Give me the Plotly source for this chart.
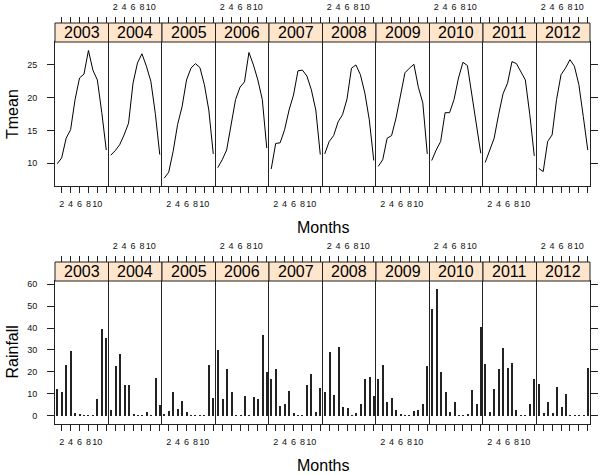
import plotly.graph_objects as go

years = ["2003", "2004", "2005", "2006", "2007", "2008", "2009", "2010", "2011", "2012"]
months = [1, 2, 3, 4, 5, 6, 7, 8, 9, 10, 11, 12]

tmean = {
    "2003": [9.9, 10.8, 13.8, 15.1, 19.7, 23.0, 23.6, 27.2, 24.2, 22.7, 17.7, 12.0],
    "2004": [11.2, 11.9, 12.8, 14.3, 16.1, 22.2, 25.3, 26.7, 24.8, 22.5, 17.6, 11.3],
    "2005": [7.7, 8.6, 11.8, 15.9, 18.6, 22.7, 24.5, 25.2, 24.6, 22.0, 18.1, 11.4],
    "2006": [9.3, 10.5, 12.0, 15.6, 19.7, 21.6, 22.4, 26.9, 25.0, 22.7, 19.7, 12.3],
    "2007": [9.1, 13.0, 13.1, 15.1, 18.1, 20.4, 24.1, 24.2, 23.3, 21.2, 18.1, 11.3],
    "2008": [11.4, 13.3, 14.2, 16.3, 17.4, 19.8, 24.5, 25.0, 23.5, 20.7, 16.6, 10.4],
    "2009": [9.5, 10.5, 13.8, 14.2, 16.9, 20.2, 23.8, 24.5, 25.1, 21.6, 19.2, 11.4],
    "2010": [10.4, 12.0, 13.3, 17.7, 17.7, 19.7, 23.0, 25.4, 24.9, 20.3, 15.8, 11.5],
    "2011": [10.1, 12.0, 13.8, 17.4, 20.6, 22.2, 25.5, 25.2, 24.0, 22.7, 17.4, 11.1],
    "2012": [9.2, 8.7, 13.3, 14.3, 19.7, 23.5, 24.5, 25.8, 24.8, 22.0, 17.1, 12.0],
}

rainfall = {
    "2003": [12.0, 10.9, 23.1, 29.6, 1.4, 0.8, 0.3, 0.3, 0.3, 7.4, 39.8, 35.7],
    "2004": [2.6, 22.6, 28.1, 14.0, 14.2, 0.5, 0.3, 0.3, 1.6, 0.3, 17.0, 4.9],
    "2005": [0.6, 2.3, 10.6, 3.0, 6.7, 1.5, 0.3, 0.3, 0.3, 0.3, 23.1, 8.2],
    "2006": [29.9, 7.6, 21.3, 10.9, 0.3, 0.3, 9.0, 0.2, 8.7, 7.4, 36.8, 20.1],
    "2007": [16.6, 21.1, 4.4, 5.3, 11.4, 1.4, 0.3, 0.3, 14.0, 19.0, 1.8, 12.5],
    "2008": [10.9, 29.2, 9.4, 31.5, 4.1, 3.6, 0.3, 1.4, 5.3, 16.6, 17.8, 9.1],
    "2009": [16.6, 23.1, 6.4, 8.2, 2.6, 0.8, 0.3, 0.3, 2.1, 2.6, 5.3, 22.6],
    "2010": [48.9, 57.8, 20.1, 10.6, 1.5, 6.4, 0.3, 0.3, 0.8, 11.7, 5.3, 40.3],
    "2011": [23.4, 1.8, 12.3, 21.1, 31.0, 22.0, 23.9, 2.6, 0.3, 0.3, 5.3, 16.7],
    "2012": [14.3, 1.1, 6.2, 1.1, 12.9, 3.8, 10.0, 0.3, 0.3, 0.3, 0.3, 21.6],
}

xtick_vals = [2, 4, 6, 8, 10, 12]
xtick_text = ["2", "4", "6", "8", "10", ""]
tmean_ticks = [10, 15, 20, 25]
rain_ticks = [0, 10, 20, 30, 40, 50, 60]

W, H = 600, 475
FONT = "Liberation Sans, Arial, sans-serif"
LEFT, PW = 55, 53.5
XR = [0.5, 12.5]

rows = [
    dict(name="Tmean", data=tmean, strip_top=23, top=42, bottom=186, yr=[6.5, 28.5],
         yticks=tmean_ticks, kind="line", months_y=227),
    dict(name="Rainfall", data=rainfall, strip_top=262, top=281, bottom=424, yr=[-3.8, 61.5],
         yticks=rain_ticks, kind="bar", months_y=465),
]

fig = go.Figure()
layout = {}
shapes = []
annotations = []

def py(p):
    return 1 - p / H

def px(p):
    return p / W

tickfont = dict(family=FONT, size=9, color="#111")
LC = "#222"

n_main = 0
for r, row in enumerate(rows):
    for i, yr in enumerate(years):
        n_main += 1
        k = n_main
        ov = 20 + k
        x0 = px(LEFT + i * PW)
        x1 = px(LEFT + (i + 1) * PW)
        xa = "xaxis" if k == 1 else f"xaxis{k}"
        ya = "yaxis" if k == 1 else f"yaxis{k}"
        xref = "x" if k == 1 else f"x{k}"
        yref = "y" if k == 1 else f"y{k}"
        bottom_labels = (i % 2 == 0)
        layout[xa] = dict(
            domain=[x0, x1], range=XR, anchor=yref,
            showline=True, mirror=True, linecolor=LC, linewidth=1,
            ticks="outside", ticklen=6, tickwidth=1, tickcolor=LC,
            tickvals=xtick_vals, ticktext=xtick_text, tickangle=0,
            showticklabels=bottom_labels, showgrid=False, zeroline=False,
            tickfont=tickfont, automargin=False, fixedrange=True,
            ticklabelstandoff=3,
        )
        layout[f"xaxis{ov}"] = dict(
            overlaying=xref, anchor="free", position=py(row["strip_top"]),
            side="top", range=XR, showline=False,
            ticks="outside", ticklen=6, tickwidth=1, tickcolor=LC,
            tickvals=xtick_vals, ticktext=xtick_text, tickangle=0,
            showticklabels=not bottom_labels, showgrid=False, zeroline=False,
            tickfont=tickfont, automargin=False, fixedrange=True,
            ticklabelstandoff=3,
        )
        yd = dict(
            domain=[py(row["bottom"]), py(row["top"])], range=row["yr"], anchor=xref,
            showline=True, mirror=(i == len(years) - 1), linecolor=LC, linewidth=1,
            showgrid=False, zeroline=False, tickvals=row["yticks"],
            tickfont=tickfont, automargin=False, fixedrange=True,
        )
        if i == 0:
            yd.update(ticks="outside", ticklen=7, tickcolor=LC, showticklabels=True,
                      side="left", ticklabelstandoff=8)
        elif i == len(years) - 1:
            yd.update(ticks="outside", ticklen=7, tickcolor=LC, showticklabels=False, side="right")
        else:
            yd.update(ticks="", showticklabels=False)
        layout[ya] = yd

        vals = row["data"][yr]
        if row["kind"] == "line":
            fig.add_trace(go.Scatter(x=months, y=vals, mode="lines",
                                     line=dict(color="black", width=1),
                                     xaxis=xref, yaxis=yref, showlegend=False,
                                     hoverinfo="skip"))
        else:
            fig.add_trace(go.Bar(x=months, y=vals, width=0.22,
                                 marker=dict(color="#222", line=dict(width=0)),
                                 xaxis=xref, yaxis=yref, showlegend=False,
                                 hoverinfo="skip"))
        # invisible trace so the top overlay axis is drawn
        fig.add_trace(go.Scatter(x=months, y=[None] * len(months), mode="lines",
                                 xaxis=f"x{ov}", yaxis=yref, showlegend=False,
                                 hoverinfo="skip"))

        shapes.append(dict(type="rect", xref="paper", yref="paper",
                           x0=x0, x1=x1, y0=py(row["top"]), y1=py(row["strip_top"]),
                           fillcolor="#FFE5CC", line=dict(color=LC, width=1),
                           layer="above"))
        annotations.append(dict(text=yr, xref="paper", yref="paper",
                                x=(x0 + x1) / 2, y=py((row["top"] + row["strip_top"]) / 2),
                                xanchor="center", yanchor="middle", showarrow=False,
                                font=dict(family=FONT, size=16, color="black")))

    annotations.append(dict(text=row["name"], xref="paper", yref="paper",
                            x=px(12), y=py((row["top"] + row["bottom"]) / 2),
                            xanchor="center", yanchor="middle", textangle=-90,
                            showarrow=False,
                            font=dict(family=FONT, size=16, color="black")))
    annotations.append(dict(text="Months", xref="paper", yref="paper",
                            x=px(LEFT + 5 * PW), y=py(row["months_y"]),
                            xanchor="center", yanchor="middle", showarrow=False,
                            font=dict(family=FONT, size=16, color="black")))

fig.update_layout(
    width=W, height=H,
    margin=dict(l=0, r=0, t=0, b=0, autoexpand=False),
    paper_bgcolor="white", plot_bgcolor="white",
    shapes=shapes, annotations=annotations,
    bargap=0, showlegend=False,
    **layout,
)

fig.write_html("out.html", config={"displayModeBar": False},
               post_script="document.body.style.margin='0';")
